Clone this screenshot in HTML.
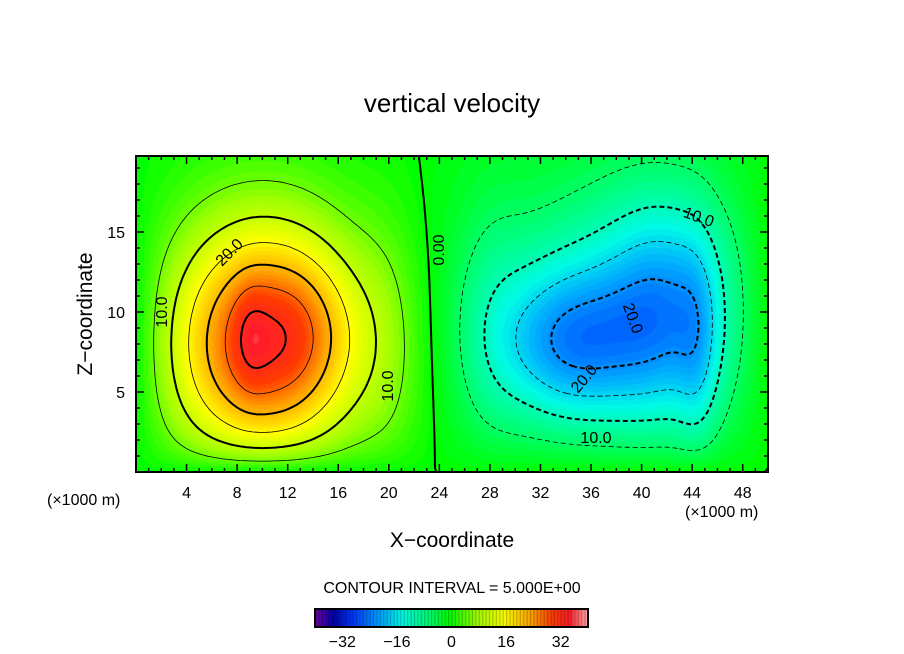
<!DOCTYPE html>
<html><head><meta charset="utf-8"><style>
body{margin:0;background:#fff;width:904px;height:654px;overflow:hidden;font-family:"Liberation Sans",sans-serif}
#wrap{position:relative;width:904px;height:654px}
canvas{position:absolute}
svg{position:absolute;left:0;top:0}
</style></head><body><div id="wrap">
<canvas id="field" style="left:136px;top:156px" width="632" height="316"></canvas>
<canvas id="cbar" style="left:315px;top:609px" width="273" height="18"></canvas>
<svg id="svg" width="904" height="654">
<text x="452" y="112" font-size="26" text-anchor="middle">vertical velocity</text>
<text x="452" y="547" font-size="21" text-anchor="middle">X−coordinate</text>
<text transform="translate(92,314) rotate(-90)" font-size="21" text-anchor="middle">Z−coordinate</text>
<text x="47" y="505" font-size="16">(×1000 m)</text>
<text x="685" y="517" font-size="16">(×1000 m)</text>
<text x="452" y="593" font-size="16" text-anchor="middle">CONTOUR INTERVAL = 5.000E+00</text>
<g id="contours"></g>
<g id="axes"></g>
<g font-size="16">
<text transform="translate(167,312) rotate(-90)" text-anchor="middle">10.0</text>
<text transform="translate(233,256) rotate(-45)" text-anchor="middle">20.0</text>
<text transform="translate(393,386) rotate(-90)" text-anchor="middle">10.0</text>
<text transform="translate(444,250) rotate(-90)" text-anchor="middle">0.00</text>
<text transform="translate(697,222) rotate(20)" text-anchor="middle">10.0</text>
<text transform="translate(628,320) rotate(70)" text-anchor="middle">20.0</text>
<text transform="translate(588,382) rotate(-50)" text-anchor="middle">20.0</text>
<text x="596" y="443" text-anchor="middle">10.0</text>
</g>
</svg></div>
<script>
// blobs: data describing the field
const blobX=[10,9,13,34,42,38,44.5,20,28];
const blobZ=[8,8.5,9,8,10,10,7,8,9];
const blobSX=[5.5,1,3,4,3.5,8,1.2,2,2];
const blobSZ=[5.5,2.5,3,3.5,5,6.5,5,6,6];
const blobAmp=[28,3,4,-13,-12,-9,-5,3,-3];
const xTicks=[4,8,12,16,20,24,28,32,36,40,44,48];
const zTicks=[5,10,15];
const cbTicks=[-32,-16,0,16,32];
const levels=[-20,-15,-10,-5,0,5,10,15,20,25,30];
const X0=136,Y0=156,W=632,H=316,XMAX=50,ZMAX=19.75;
const sx=x=>X0+x/XMAX*W, sz=z=>Y0+H-z/ZMAX*H;
function f(x,z){let v=0;for(let i=0;i<blobX.length;i++){const dx=(x-blobX[i])/blobSX[i],dz=(z-blobZ[i])/blobSZ[i];v+=blobAmp[i]*Math.exp(-(dx*dx+dz*dz)/2);}
 return v*(1-Math.exp(-z/1.2))*(1-Math.exp(-x/1.5))*(1-Math.exp(-(50-x)/1.5));}
const stops=[[-40,120,0,160],[-34,0,0,170],[-28,0,60,255],[-20,0,170,255],[-14,0,250,230],[-6,0,255,110],[0,0,255,0],[8,160,255,0],[16,255,255,0],[24,255,160,0],[30,255,60,0],[35,255,30,40],[40,255,160,160]];
function col(v){v=Math.round(v);if(v<=stops[0][0])return stops[0].slice(1);for(let i=1;i<stops.length;i++){if(v<=stops[i][0]){const a=stops[i-1],b=stops[i],t=(v-a[0])/(b[0]-a[0]);return [0,1,2].map(k=>Math.round(a[k+1]+(b[k+1]-a[k+1])*t));}}return stops[stops.length-1].slice(1);}
(function(){const c=document.getElementById('field').getContext('2d');const img=c.createImageData(W,H);
for(let py=0;py<H;py++)for(let px=0;px<W;px++){const x=(px+.5)/W*XMAX,z=(H-py-.5)/H*ZMAX;const cc=col(1.1*f(x,z));const o=(py*W+px)*4;img.data[o]=cc[0];img.data[o+1]=cc[1];img.data[o+2]=cc[2];img.data[o+3]=255;}
c.putImageData(img,0,0);
const cb=document.getElementById('cbar').getContext('2d');for(let v=-40;v<40;v++){const cc=col(v+.5);cb.fillStyle=`rgb(${cc})`;const x=(v+40)/80*273;cb.fillRect(x,0,273/80+.5,18);cb.fillStyle='rgba(0,0,0,0.35)';cb.fillRect(x,0,1,18);}})();
const NS='http://www.w3.org/2000/svg';
function mk(t,a,p){const e=document.createElementNS(NS,t);for(const k in a)e.setAttribute(k,a[k]);p.appendChild(e);return e;}
// contours via marching squares with segment chaining
(function(){const nx=200,nz=80,g=[];for(let j=0;j<=nz;j++){g[j]=[];for(let i=0;i<=nx;i++)g[j][i]=f(i/nx*XMAX,j/nz*ZMAX);}
const grp=document.getElementById('contours');
levels.forEach(L=>{const segs=[];const ends={};
const key=p=>p[0].toFixed(4)+','+p[1].toFixed(4);
for(let j=0;j<nz;j++)for(let i=0;i<nx;i++){const v=[g[j][i],g[j][i+1],g[j+1][i+1],g[j+1][i]];const P=[[i,j],[i+1,j],[i+1,j+1],[i,j+1]];const pts=[];
for(let e=0;e<4;e++){const a=v[e],b=v[(e+1)%4];if((a<L)!==(b<L)){const t=(L-a)/(b-a);const p=P[e],q=P[(e+1)%4];pts.push([p[0]+(q[0]-p[0])*t,p[1]+(q[1]-p[1])*t]);}}
for(let k=0;k+1<pts.length;k+=2){const s=[pts[k],pts[k+1]];const id=segs.length;segs.push(s);[key(s[0]),key(s[1])].forEach(kk=>{(ends[kk]=ends[kk]||[]).push(id);});}}
const used=new Array(segs.length).fill(false);let d='';
const tp=p=>`${sx(p[0]/nx*XMAX).toFixed(1)},${sz(p[1]/nz*ZMAX).toFixed(1)}`;
function extend(line){while(true){const last=line[line.length-1];const cand=(ends[key(last)]||[]).find(id=>!used[id]);if(cand===undefined)break;used[cand]=true;const s=segs[cand];line.push(key(s[0])===key(last)?s[1]:s[0]);}}
for(let id=0;id<segs.length;id++){if(used[id])continue;used[id]=true;let line=[segs[id][0],segs[id][1]];extend(line);line.reverse();extend(line);
d+='M'+line.map(tp).join('L');}
const p=mk('path',{d:d,fill:'none',stroke:'#000','stroke-width':(L%10===0)?2:0.8,'stroke-linejoin':'round'},grp);
if(L<0)p.setAttribute('stroke-dasharray','5 3');

});})();
// axes
(function(){const a=document.getElementById('axes');
const fr=mk('rect',{x:X0,y:Y0,width:W,height:H,fill:'none',stroke:'#000','stroke-width':2},a);

for(let x=1;x<50;x++){const L=x%4===0?8:4;mk('line',{x1:sx(x),x2:sx(x),y1:Y0+H,y2:Y0+H-L,stroke:'#000','stroke-width':1.5},a);mk('line',{x1:sx(x),x2:sx(x),y1:Y0,y2:Y0+L,stroke:'#000','stroke-width':1.5},a);}
for(let z=1;z<20;z++){const L=z%5===0?8:4;mk('line',{x1:X0,x2:X0+L,y1:sz(z),y2:sz(z),stroke:'#000','stroke-width':1.5},a);mk('line',{x1:X0+W,x2:X0+W-L,y1:sz(z),y2:sz(z),stroke:'#000','stroke-width':1.5},a);}
xTicks.forEach(x=>{const t=mk('text',{x:sx(x),y:498,'font-size':16,'text-anchor':'middle'},a);t.textContent=x;
});
zTicks.forEach(z=>{const t=mk('text',{x:125,y:sz(z)+6,'font-size':16,'text-anchor':'end'},a);t.textContent=z;
});
const cr=mk('rect',{x:315,y:609,width:273,height:18,fill:'none',stroke:'#000','stroke-width':2},a);

cbTicks.forEach(v=>{const t=mk('text',{x:315+(v+40)/80*273,y:647,'font-size':16,'text-anchor':'middle'},a);t.textContent=v<0?'−'+(-v):v;
});})();
</script></body></html>
